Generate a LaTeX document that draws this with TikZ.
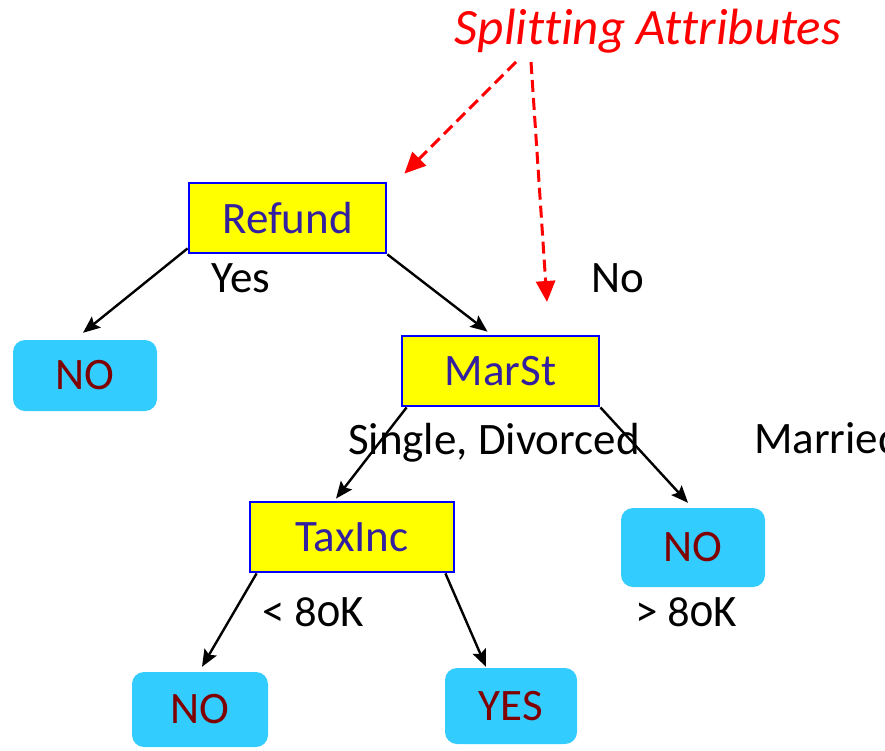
\documentclass[tikz,border=0pt]{standalone}
\usepackage{fontspec}
\setmainfont{Carlito}[Numbers=OldStyle,Ligatures=NoCommon]
\usetikzlibrary{arrows.meta,calc}
\definecolor{boxfill}{HTML}{FFFF00}
\definecolor{boxline}{HTML}{0000FF}
\definecolor{attrtext}{HTML}{3320A0}
\definecolor{leaffill}{HTML}{33CCFF}
\definecolor{leaftext}{HTML}{800000}
\begin{document}
\begin{tikzpicture}[x=1pt,y=-1pt,
  txt/.style={font=\fontsize{45}{54}\selectfont},
  attr/.style={txt, draw=boxline, fill=boxfill, line width=2.8pt, text=attrtext,
    minimum height=70pt, inner sep=0pt},
  leaf/.style={txt, fill=leaffill, rounded corners=12pt, text=leaftext, inner sep=0pt},
  lbl/.style={txt, text=black, inner sep=0pt},
  edge/.style={draw=black, line width=2.4pt, -{Stealth[length=17pt,width=14pt,inset=3pt]}},
  hint/.style={draw=red, line width=3pt, dash pattern=on 12pt off 6pt,
    -{Triangle[length=21pt,width=19pt]}}
]
\useasboundingbox (0,0) rectangle (885,750);

% attribute tests
\node[attr, minimum width=197pt] (refund) at (287.5,218) {Refund};
\node[attr, minimum width=197pt] (marst)  at (500.5,371) {MarSt};
\node[attr, minimum width=204pt] (taxinc) at (352,537)   {TaxInc};

% class leaves
\node[leaf, minimum width=144pt, minimum height=71pt] (noA) at (85,375.5)  {NO};
\node[leaf, minimum width=144pt, minimum height=79pt] (noB) at (693,547.5) {NO};
\node[leaf, minimum width=136pt, minimum height=75pt] (noC) at (200,709.5) {NO};
\node[leaf, minimum width=132pt, minimum height=76pt] (yes) at (511,706)   {YES};

% branch labels
\node[lbl] (lyes)  at (241,278) {Yes};
\node[lbl] (lno)   at (618,278) {No};
\node[lbl] (lsd)   at (494,443) {Single, Divorced};
\node[lbl, anchor=west] (lmar) at (754,438) {Married};
\node[lbl] (llt)   at (313,612) {< 80K};
\node[lbl] (lgt)   at (686,612) {> 80K};

% branches
\draw[edge] ($(refund.south west)+(0,-6)$) -- ($(noA.north)+(-2,-7)$);
\draw[edge] (refund.south east) -- ($(marst.north)+(-13,-3)$);
\draw[edge] ($(marst.south west)+(6,0)$) -- ($(taxinc.north)+(-16,-2)$);
\draw[edge] (marst.south east) -- ($(noB.north)+(-5,-5)$);
\draw[edge] ($(taxinc.south west)+(8,0)$) -- ($(noC.north)+(2,-5)$);
\draw[edge] ($(taxinc.south east)+(-10,0)$) -- ($(yes.north)+(-25,-1)$);

% annotation
\node[font=\fontsize{51}{60}\selectfont\itshape, text=red, inner sep=0pt] (title) at (648,31) {Splitting Attributes};
\coordinate (hintB) at (547,302);
\draw[hint] (516,62) -- ($(refund.north east)+(17,-8)$);
\draw[hint] (531,62) -- (hintB);
\end{tikzpicture}
\end{document}
